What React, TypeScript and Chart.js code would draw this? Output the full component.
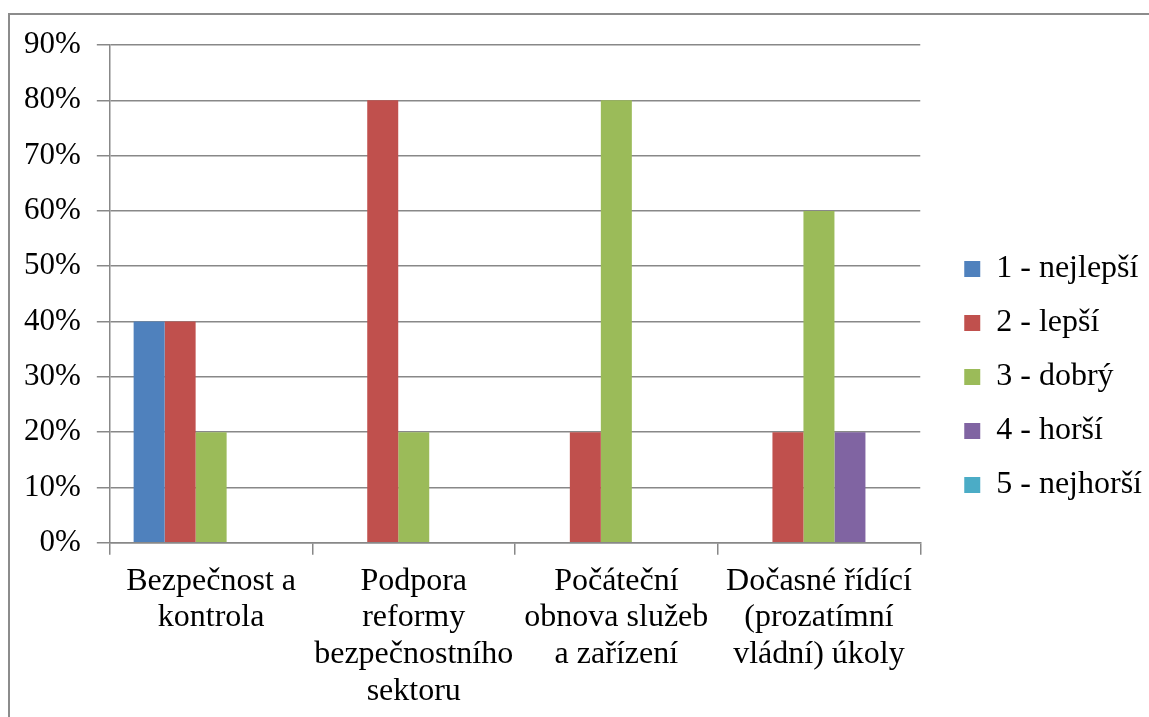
import React, { useEffect, useRef } from "react";
import { Chart, registerables, layouts } from "chart.js";

Chart.register(...registerables);

const categories: string[][] = [
  ["Bezpečnost a", "kontrola"],
  ["Podpora", "reformy", "bezpečnostního", "sektoru"],
  ["Počáteční", "obnova služeb", "a zařízení"],
  ["Dočasné řídící", "(prozatímní", "vládní) úkoly"],
];

const seriesNames: string[] = [
  "1 - nejlepší",
  "2 - lepší",
  "3 - dobrý",
  "4 - horší",
  "5 - nejhorší",
];

const s1: number[] = [0.4, 0, 0, 0];
const s2: number[] = [0.4, 0.8, 0.2, 0.2];
const s3: number[] = [0.2, 0.2, 0.8, 0.6];
const s4: number[] = [0, 0, 0, 0.2];
const s5: number[] = [0, 0, 0, 0];

const seriesColors: string[] = ["#4F81BD", "#C0504D", "#9BBB59", "#8064A2", "#4BACC6"];

const FONT = "'Liberation Serif', 'Times New Roman', serif";

const spacerPlugin = {
  id: "legendSpacer",
  beforeInit(chart: any) {
    const box: any = {
      position: "right",
      weight: 10,
      fullSize: false,
      options: { display: false },
      left: 0,
      top: 0,
      right: 0,
      bottom: 0,
      width: 0,
      height: 0,
      isHorizontal() {
        return false;
      },
      update(_maxWidth: number, maxHeight: number) {
        this.width = 22;
        this.height = maxHeight;
      },
      draw() {},
    };
    layouts.addBox(chart, box);
  },
};

export default function App() {
  const ref = useRef<HTMLCanvasElement | null>(null);

  useEffect(() => {
    if (!ref.current) return;
    const values = [s1, s2, s3, s4, s5];
    const chart = new Chart(ref.current, {
      type: "bar",
      data: {
        labels: categories,
        datasets: seriesNames.map((name, i) => ({
          label: name,
          data: values[i],
          backgroundColor: seriesColors[i],
          borderWidth: 0,
          barPercentage: 1,
          categoryPercentage: 0.765,
        })),
      },
      plugins: [spacerPlugin],
      options: {
        animation: false,
        responsive: false,
        maintainAspectRatio: false,
        layout: { padding: { top: 45, bottom: 8, left: 8, right: -3 } },
        plugins: {
          tooltip: { enabled: false },
          legend: {
            position: "right",
            labels: {
              font: { family: FONT, size: 32 },
              color: "#000",
              boxWidth: 16,
              boxHeight: 16,
              padding: 22,
            },
          },
        },
        scales: {
          x: {
            afterFit: (scale: any) => {
              scale.height -= 9;
            },
            grid: {
              offset: true,
              drawOnChartArea: false,
              drawTicks: true,
              tickLength: 12,
              color: "#888888",
              lineWidth: 1.5,
            },
            border: { display: true, color: "#888888", width: 1.5 },
            ticks: {
              font: { family: FONT, size: 32, lineHeight: 1.15 },
              color: "#000",
              maxRotation: 0,
              autoSkip: false,
              padding: 8,
            },
          },
          y: {
            min: 0,
            max: 0.9,
            grid: {
              color: "#888888",
              lineWidth: 1.5,
              drawTicks: true,
              tickLength: 13,
            },
            border: { display: true, color: "#888888", width: 1.5 },
            ticks: {
              stepSize: 0.1,
              font: { family: FONT, size: 31 },
              color: "#000",
              padding: 16,
              callback: (v: any) => Math.round(Number(v) * 100) + "%",
            },
          },
        },
      },
    });
    return () => chart.destroy();
  }, []);

  return (
    <div>
      <div
        style={{
          position: "fixed",
          left: 8,
          top: 13,
          width: 1300,
          height: 900,
          borderLeft: "2px solid #8c8c8c",
          borderTop: "2px solid #8c8c8c",
          boxSizing: "border-box",
        }}
      />
      <canvas
        ref={ref}
        width={1149}
        height={717}
        style={{ position: "fixed", left: 0, top: 0, width: 1149, height: 717 }}
      />
    </div>
  );
}
